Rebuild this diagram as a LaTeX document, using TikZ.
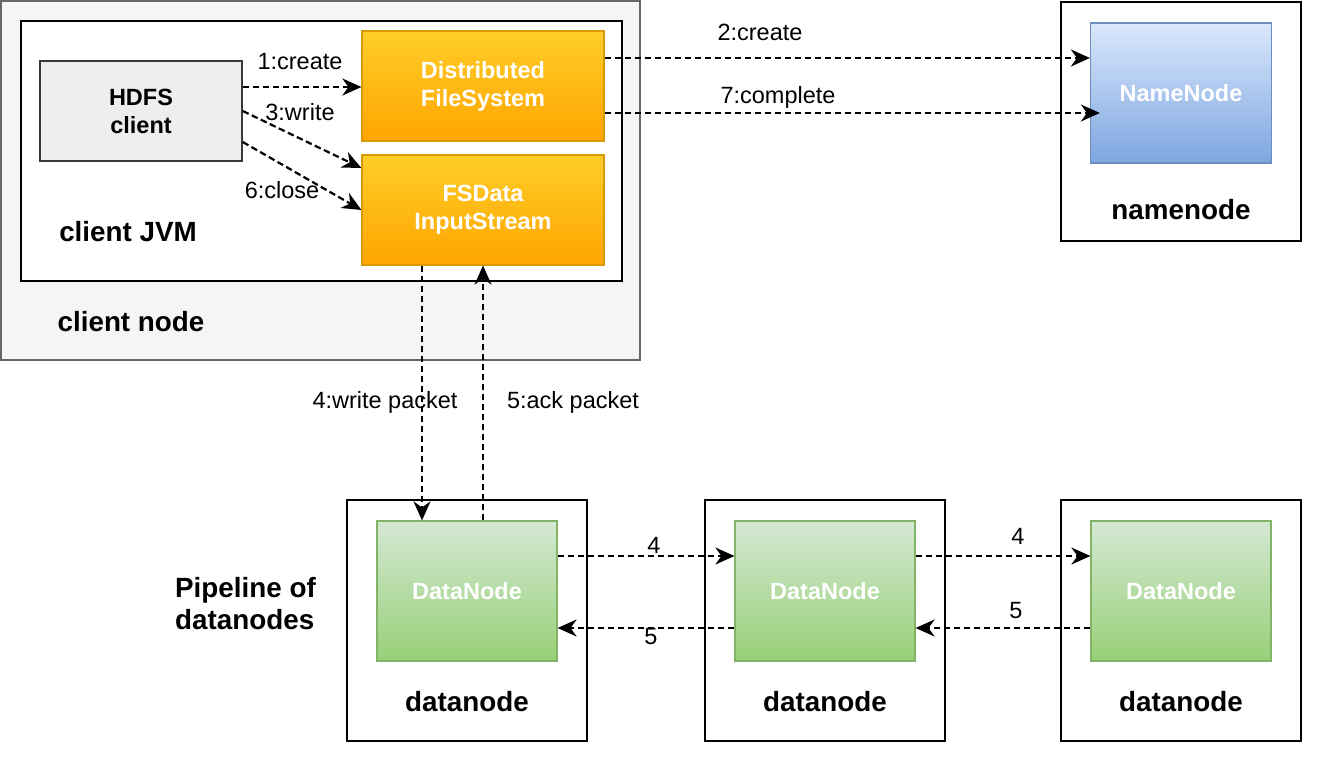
\documentclass[tikz,border=0pt]{standalone}
\usepackage{fontspec}
\setmainfont{Liberation Sans}
\usetikzlibrary{arrows.meta}
\definecolor{cnfill}{HTML}{F5F5F5}
\definecolor{cnline}{HTML}{666666}
\definecolor{hdfill}{HTML}{EEEEEE}
\definecolor{hdline}{HTML}{36393D}
\definecolor{ortop}{HTML}{FFCD28}
\definecolor{orbot}{HTML}{FFA500}
\definecolor{orline}{HTML}{D79B00}
\definecolor{bltop}{HTML}{DAE8FC}
\definecolor{blbot}{HTML}{7EA6E0}
\definecolor{blline}{HTML}{6C8EBF}
\definecolor{grtop}{HTML}{D5E8D4}
\definecolor{grbot}{HTML}{97D077}
\definecolor{grline}{HTML}{82B366}
\tikzset{
  lbl/.style={font=\fontsize{23.5}{28}\selectfont, inner sep=0pt},
  biglbl/.style={font=\fontsize{27.8}{32}\selectfont\bfseries, inner sep=0pt},
  boxtxt/.style={font=\fontsize{23.5}{28}\selectfont\bfseries, align=center, inner sep=0pt},
  orbox/.style={boxtxt, draw=orline, line width=1.2pt, top color=ortop, bottom color=orbot, text=white, minimum width=242pt, minimum height=110pt},
  blbox/.style={boxtxt, draw=blline, line width=1.2pt, top color=bltop, bottom color=blbot, text=white, minimum width=181pt, minimum height=140pt},
  grbox/.style={boxtxt, draw=grline, line width=1.2pt, top color=grtop, bottom color=grbot, text=white, minimum width=180pt, minimum height=140pt},
  frame/.style={draw=black, line width=2pt, fill=white},
  arr/.style={line width=2.2pt, dash pattern=on 6.5pt off 3.5pt, -{Stealth[length=19pt,width=17pt,inset=6pt]}},
}
\begin{document}
\begin{tikzpicture}[x=1pt,y=-1pt]
\useasboundingbox (0,0) rectangle (1320,764);
% containers
\draw[draw=cnline, fill=cnfill, line width=1.5pt] (1,1) rectangle (640,360);
\draw[frame] (21,21) rectangle (622,281);
\draw[frame] (1061,2) rectangle (1301,241);
\draw[frame] (347,500) rectangle (587,741);
\draw[frame] (705,500) rectangle (945,741);
\draw[frame] (1061,500) rectangle (1301,741);
% nodes
\node[boxtxt, draw=hdline, line width=1.5pt, fill=hdfill, minimum width=202pt, minimum height=100pt] (hdfs) at (141,111) {HDFS\\client};
\node[orbox] (dfs) at (483,86) {Distributed\\FileSystem};
\node[orbox] (fsd) at (483,210) {FSData\\InputStream};
\node[blbox] (nn) at (1181,93) {NameNode};
\node[grbox] (dn1) at (467,591) {DataNode};
\node[grbox] (dn2) at (825,591) {DataNode};
\node[grbox] (dn3) at (1181,591) {DataNode};
% labels
\node[biglbl] (ljvm) at (128,232) {client JVM};
\node[biglbl] (lcn) at (131,322) {client node};
\node[biglbl] (lnn) at (1181,210) {namenode};
\node[biglbl] (ld1) at (467,702) {datanode};
\node[biglbl] (ld2) at (825,702) {datanode};
\node[biglbl] (ld3) at (1181,702) {datanode};
\node[biglbl, anchor=west, align=left] (lpipe) at (175,604) {Pipeline of\\datanodes};
% arrows in client
\draw[arr] ([yshift=24pt]hdfs.east) -- ([yshift=24pt]hdfs.east -| dfs.west);
\draw[arr] (hdfs.east) -- ([yshift=42pt]fsd.west);
\draw[arr] ([yshift=-31pt]hdfs.east) -- (fsd.west);
\node[lbl] (l1) at (300,62) {1:create};
\node[lbl] (l3) at (300,112) {3:write};
\node[lbl] (l6) at (282,190) {6:close};
% to namenode
\draw[arr] ([yshift=28pt]dfs.east) -- ([yshift=28pt]dfs.east -| nn.west);
\coordinate (c7) at ([xshift=10pt]nn.west |- 0,113);
\draw[arr] ([yshift=-27pt]dfs.east) -- (c7);
\node[lbl] (l2) at (760,32) {2:create};
\node[lbl] (l7) at (778,97) {7:complete};
% write / ack packet
\draw[arr] ([xshift=-61pt]fsd.south) -- ([xshift=-61pt]fsd.south |- dn1.north);
\draw[arr] (dn1.north -| fsd.south) -- (fsd.south);
\node[lbl] (l4) at (385,402) {4:write packet};
\node[lbl] (l5) at (573,402) {5:ack packet};
% pipeline
\draw[arr] ([yshift=35pt]dn1.east) -- ([yshift=35pt]dn2.west);
\draw[arr] ([yshift=-37pt]dn2.west) -- ([yshift=-37pt]dn1.east);
\draw[arr] ([yshift=35pt]dn2.east) -- ([yshift=35pt]dn3.west);
\draw[arr] ([yshift=-37pt]dn3.west) -- ([yshift=-37pt]dn2.east);
\node[lbl] (p4a) at (654,545) {4};
\node[lbl] (p5a) at (651,637) {5};
\node[lbl] (p4b) at (1018,536) {4};
\node[lbl] (p5b) at (1016,611) {5};
\end{tikzpicture}
\end{document}
